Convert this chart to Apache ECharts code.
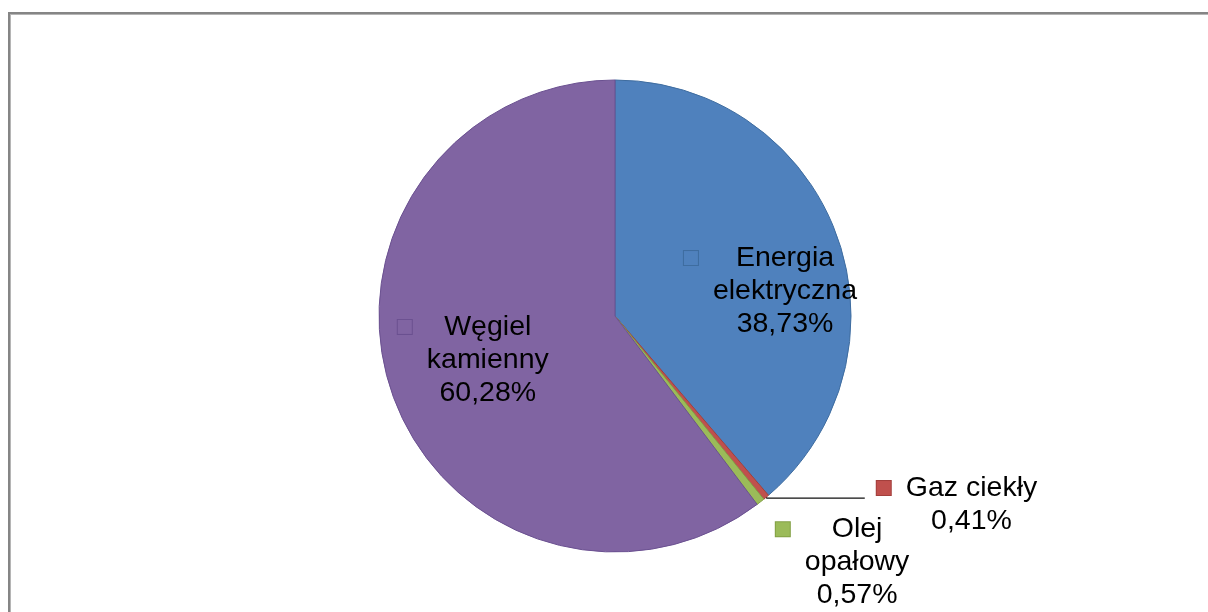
<!DOCTYPE html>
<html>
<head>
<meta charset="utf-8">
<script src="https://cdn.jsdelivr.net/npm/echarts@6/dist/echarts.min.js"></script>
<style>
  html, body { margin: 0; padding: 0; background: #fff; }
  #frame { position: absolute; left: 8px; top: 12px; width: 1400px; height: 800px;
           border-left: 2px solid #858585; border-top: 2px solid #858585;
           box-shadow: inset 1px 1px 0 #b5b5b5; z-index: 0; }
  #chart { position: absolute; left: 0; top: 0; width: 1208px; height: 612px; z-index: 1; }
</style>
</head>
<body>
<div id="frame"></div>
<div id="chart"></div>
<script>
// ---- data ----
const categories = ['Energia elektryczna', 'Gaz ciekły', 'Olej opałowy', 'Węgiel kamienny'];
const values = [38.73, 0.41, 0.57, 60.28];
const labelNameLines = [['Energia', 'elektryczna'], ['Gaz ciekły'], ['Olej', 'opałowy'], ['Węgiel', 'kamienny']];

// ---- styles ----
const colors = ['#4F81BD', '#C0504D', '#9BBB59', '#8064A2'];
const borderColors = ['#3E6C9F', '#A33F3C', '#82A044', '#6A5090'];
const FONT = "'Liberation Sans', Arial, sans-serif";
const labelOffsets = [{ dx: 42, dy: 17 }, {}, { dx: 153, dy: 151 }, { dx: -27, dy: 5.5 }];

function fmtPct(v) { return v.toFixed(2).replace('.', ',') + '%'; }

function buildLabel(i) {
  const lines = labelNameLines[i];
  let s = '{sq' + i + '|}{gap|}{t|' + lines[0] + '}';
  for (let k = 1; k < lines.length; k++) s += '\n{sp|}{t|' + lines[k] + '}';
  s += '\n{sp|}{t|' + fmtPct(values[i]) + '}';
  return s;
}

const rich = {
  t: { fontSize: 28.5, lineHeight: 33, color: '#000', fontFamily: FONT, align: 'center' },
  gap: { width: 15, align: 'left', lineHeight: 33 },
  sp: { width: 29, align: 'left', lineHeight: 33 }
};
colors.forEach(function (c, i) {
  rich['sq' + i] = { width: 14, height: 14, backgroundColor: c, borderColor: borderColors[i],
                     borderWidth: 1, align: 'left', lineHeight: 33 };
});

const data = categories.map(function (name, i) {
  const outside = (i === 1);
  return {
    name: name,
    value: values[i],
    itemStyle: { color: colors[i], borderColor: borderColors[i], borderWidth: 1 },
    label: {
      show: true,
      position: outside ? 'outside' : 'inside',
      formatter: buildLabel(i),
      rich: rich,
      padding: outside ? [13, 0, 0, 0] : 0,
      distanceToLabelLine: 12
    },
    labelLine: {
      show: outside,
      length: 1,
      length2: 98,
      lineStyle: { color: '#111', width: 1.3 }
    }
  };
});

const chart = echarts.init(document.getElementById('chart'), null, { renderer: 'canvas' });
chart.setOption({
  animation: false,
  series: [{
    type: 'pie',
    center: [615, 316],
    radius: 236,
    startAngle: 90,
    clockwise: true,
    avoidLabelOverlap: false,
    emphasis: { disabled: true },
    labelLayout: function (p) { return labelOffsets[p.dataIndex]; },
    data: data
  }]
});
</script>
</body>
</html>
